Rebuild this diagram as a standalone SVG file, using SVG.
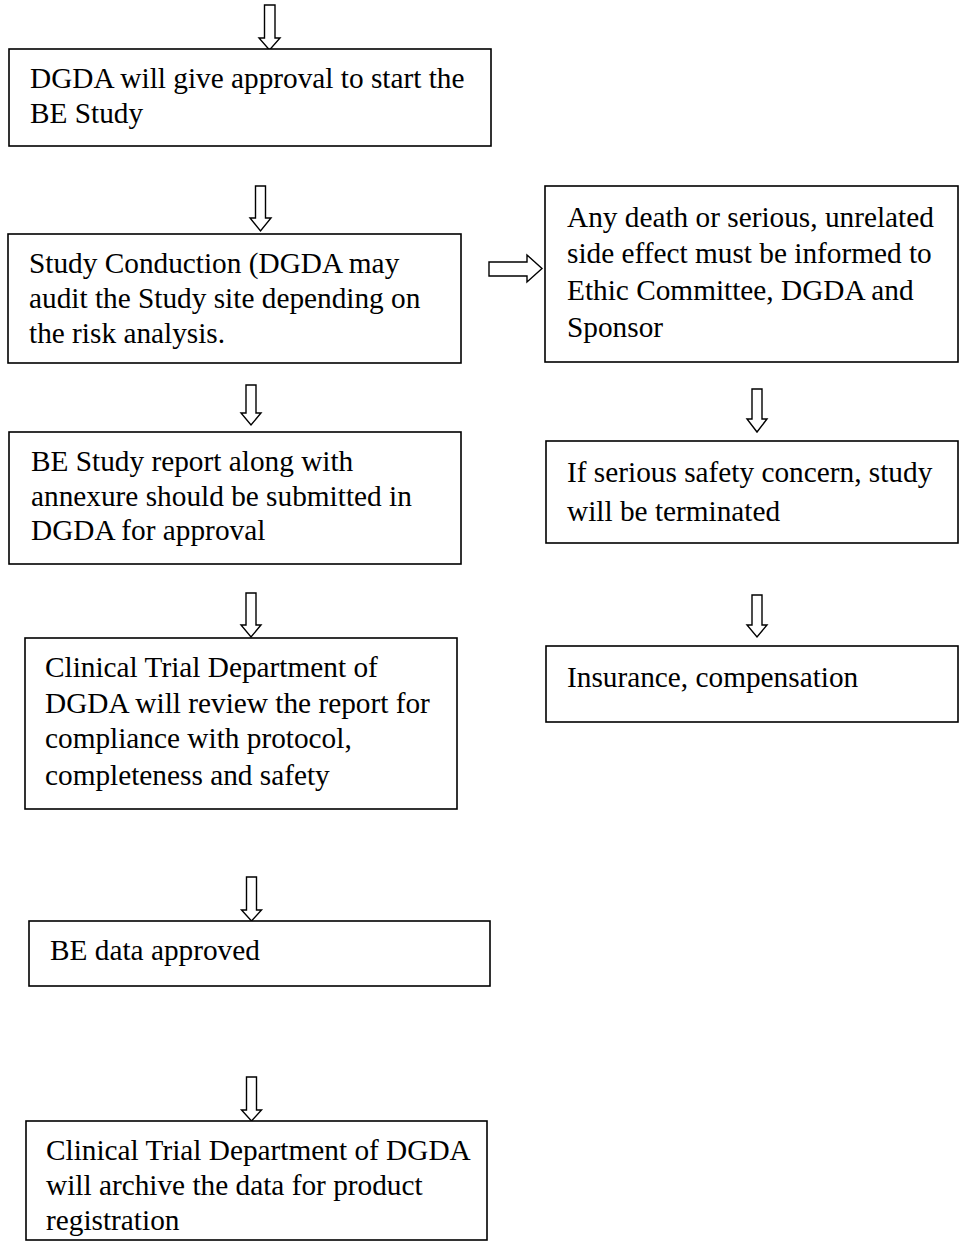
<svg xmlns="http://www.w3.org/2000/svg" width="959" height="1259" viewBox="0 0 959 1259">
<style>
.box{fill:#fff;stroke:#000;stroke-width:1.6}
.arr{fill:#fff;stroke:#000;stroke-width:1.4;stroke-linejoin:miter}
text{font-family:"Liberation Serif","Times New Roman",serif;font-size:29.3px;fill:#000}
</style>
<rect width="959" height="1259" fill="#fff"/>
<g id="connectors">
<path class="arr" d="M264.5,5 H275 V38 H280 L269.5,50 L259,38 H264.5 Z"/>
<path class="arr" d="M255.5,186 H265.5 V218 H271 L260.5,231 L250,218 H255.5 Z"/>
<path class="arr" d="M489,262 H527 V255 L542,268.5 L527,282 V276 H489 Z"/>
<path class="arr" d="M246,385 H256 V413 H261 L251,425 L241,413 H246 Z"/>
<path class="arr" d="M752,389 H762 V419 H767 L757,432 L747,419 H752 Z"/>
<path class="arr" d="M752,595 H762 V625 H767 L757,637 L747,625 H752 Z"/>
<path class="arr" d="M246,593 H256 V625 H261 L251,637 L241,625 H246 Z"/>
<path class="arr" d="M246.5,877 H256.5 V910 H261.5 L251.5,921 L241.5,910 H246.5 Z"/>
<path class="arr" d="M246.5,1077 H256.5 V1110 H261.5 L251.5,1121 L241.5,1110 H246.5 Z"/>
</g>
<g id="n1"><rect class="box" x="9" y="49" width="482" height="97"/>
<text x="30" y="88">DGDA will give approval to start the</text>
<text x="30" y="123">BE Study</text></g>
<g id="n2"><rect class="box" x="8" y="234" width="453" height="129"/>
<text x="29" y="273">Study Conduction (DGDA may</text>
<text x="29" y="308">audit the Study site depending on</text>
<text x="29" y="343">the risk analysis.</text></g>
<g id="n3"><rect class="box" x="545" y="186" width="413" height="176"/>
<text x="567" y="227">Any death or serious, unrelated</text>
<text x="567" y="263">side effect must be informed to</text>
<text x="567" y="300">Ethic Committee, DGDA and</text>
<text x="567" y="337">Sponsor</text></g>
<g id="n4"><rect class="box" x="9" y="432" width="452" height="132"/>
<text x="31" y="471">BE Study report along with</text>
<text x="31" y="506">annexure should be submitted in</text>
<text x="31" y="540">DGDA for approval</text></g>
<g id="n5"><rect class="box" x="546" y="441" width="412" height="102"/>
<text x="567" y="482">If serious safety concern, study</text>
<text x="567" y="521">will be terminated</text></g>
<g id="n6"><rect class="box" x="546" y="646" width="412" height="76"/>
<text x="567" y="687">Insurance, compensation</text></g>
<g id="n7"><rect class="box" x="25" y="638" width="432" height="171"/>
<text x="45" y="677">Clinical Trial Department of</text>
<text x="45" y="713">DGDA will review the report for</text>
<text x="45" y="748">compliance with protocol,</text>
<text x="45" y="785">completeness and safety</text></g>
<g id="n8"><rect class="box" x="29" y="921" width="461" height="65"/>
<text x="50" y="960">BE data approved</text></g>
<g id="n9"><rect class="box" x="26" y="1121" width="461" height="119"/>
<text x="46" y="1160">Clinical Trial Department of DGDA</text>
<text x="46" y="1195">will archive the data for product</text>
<text x="46" y="1230">registration</text></g>
</svg>
